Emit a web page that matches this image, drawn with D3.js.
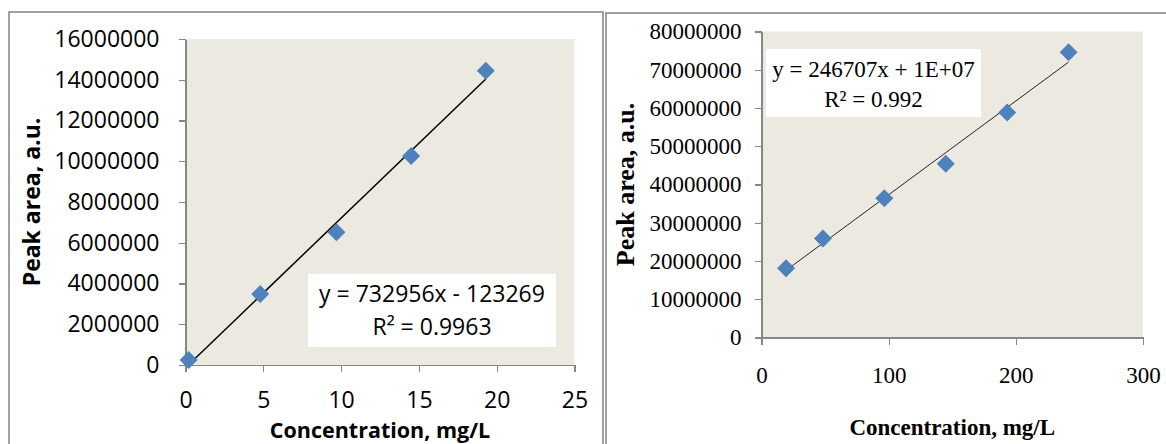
<!DOCTYPE html>
<html>
<head>
<meta charset="utf-8">
<script src="https://cdn.jsdelivr.net/npm/d3@7"></script>
<style>
  body { margin: 0; background: #fff; }
  svg { display: block; }
  .axis path, .axis line { stroke: #868686; stroke-width: 1.3px; shape-rendering: crispEdges; }
</style>
</head>
<body>
<svg id="chart" width="1166" height="444"></svg>
<script>
// Left chart: calibration 0-25 mg/L
const leftConc = [0.2, 4.8, 9.7, 14.5, 19.3];
const leftArea = [250000, 3480000, 6510000, 10260000, 14440000];
const leftXTicks = [0, 5, 10, 15, 20, 25];
const leftYTicks = [0, 2000000, 4000000, 6000000, 8000000, 10000000, 12000000, 14000000, 16000000];
const leftEquation = ["y = 732956x - 123269", "R² = 0.9963"];

// Right chart: calibration 0-300 mg/L
const rightConc = [19.3, 48.3, 96.6, 144.9, 193.2, 241.5];
const rightArea = [18100000, 25900000, 36400000, 45400000, 58800000, 74600000];
const rightXTicks = [0, 100, 200, 300];
const rightYTicks = [0, 10000000, 20000000, 30000000, 40000000, 50000000, 60000000, 70000000, 80000000];
const rightEquation = ["y = 246707x + 1E+07", "R² = 0.992"];

const svg = d3.select("#chart");

// least squares line through the points
function fitLine(xs, ys) {
    const mx = d3.mean(xs), my = d3.mean(ys);
    const sxy = d3.sum(xs, (x, i) => (x - mx) * (ys[i] - my));
    const sxx = d3.sum(xs, x => (x - mx) * (x - mx));
    const slope = sxy / sxx;
    return { slope, intercept: my - slope * mx };
}

function drawPanel(cfg) {
    // outer frame
    svg.append("rect")
        .attr("x", cfg.frame[0]).attr("y", cfg.frame[1])
        .attr("width", cfg.frame[2]).attr("height", cfg.frame[3])
        .attr("fill", "none")
        .attr("stroke", "#8a8a8a")
        .attr("stroke-width", 1.6);

    const x = d3.scaleLinear().domain(cfg.xDomain).range([cfg.left, cfg.right]);
    const y = d3.scaleLinear().domain(cfg.yDomain).range([cfg.bottom, cfg.top]);

    // plot area
    svg.append("rect")
        .attr("x", cfg.left).attr("y", cfg.top)
        .attr("width", cfg.right - cfg.left).attr("height", cfg.bottom - cfg.top)
        .attr("fill", "#ECEAE0");

    // y axis
    const yAxis = svg.append("g")
        .attr("class", "axis")
        .attr("transform", `translate(${cfg.left},0)`)
        .call(d3.axisLeft(y).tickValues(cfg.yTicks).tickSize(7).tickSizeOuter(0).tickPadding(cfg.yPad).tickFormat(d3.format("d")));
    yAxis.selectAll("text")
        .attr("fill", "#000")
        .style("font-family", cfg.font)
        .style("font-size", cfg.fontSize + "px");

    // x axis
    const xAxis = svg.append("g")
        .attr("class", "axis")
        .attr("transform", `translate(0,${cfg.bottom})`)
        .call(d3.axisBottom(x).tickValues(cfg.xTicks).tickSize(7).tickSizeOuter(0).tickPadding(cfg.xPad).tickFormat(d3.format("d")));
    xAxis.selectAll("text")
        .attr("fill", "#000")
        .style("font-family", cfg.font)
        .style("font-size", cfg.fontSize + "px");

    // trendline
    const fit = fitLine(cfg.xs, cfg.ys);
    const x0 = d3.min(cfg.xs), x1 = d3.max(cfg.xs);
    svg.append("line")
        .attr("x1", x(x0)).attr("y1", y(fit.slope * x0 + fit.intercept))
        .attr("x2", x(x1)).attr("y2", y(fit.slope * x1 + fit.intercept))
        .attr("stroke", cfg.lineColor)
        .attr("stroke-width", cfg.lineWidth);

    // diamond markers
    svg.selectAll(null)
        .data(cfg.xs)
        .enter()
        .append("path")
        .attr("d", d3.symbol(d3.symbolSquare, 2 * 9 * 9)())
        .attr("transform", (d, i) => `translate(${x(d)},${y(cfg.ys[i])}) rotate(45)`)
        .attr("fill", "#4F81BD");

    // equation box
    svg.append("rect")
        .attr("x", cfg.box[0]).attr("y", cfg.box[1])
        .attr("width", cfg.box[2]).attr("height", cfg.box[3])
        .attr("fill", "#fff");
    cfg.equation.forEach((t, i) => {
        svg.append("text")
            .attr("x", cfg.box[0] + cfg.box[2] / 2)
            .attr("y", cfg.eqBase[i])
            .attr("text-anchor", "middle")
            .style("font-family", cfg.font)
            .style("font-size", cfg.fontSize + "px")
            .text(t);
    });

    // axis titles
    svg.append("text")
        .attr("x", (cfg.left + cfg.right) / 2)
        .attr("y", cfg.xTitleY)
        .attr("text-anchor", "middle")
        .style("font-family", cfg.font)
        .style("font-size", cfg.titleSize + "px")
        .style("font-weight", "bold")
        .text("Concentration, mg/L");

    svg.append("text")
        .attr("transform", `translate(${cfg.yTitleX},${(cfg.top + cfg.bottom) / 2}) rotate(-90)`)
        .attr("text-anchor", "middle")
        .style("font-family", cfg.font)
        .style("font-size", cfg.yTitleSize + "px")
        .style("font-weight", "bold")
        .text("Peak area, a.u.");
}

drawPanel({
    frame: [9, 12, 594, 460],
    left: 185.5, right: 574.5, top: 39, bottom: 365,
    xDomain: [0, 25], yDomain: [0, 16000000],
    xTicks: leftXTicks, yTicks: leftYTicks,
    xs: leftConc, ys: leftArea,
    font: "'Open Sans', sans-serif", fontSize: 23, titleSize: 21.5, yTitleSize: 23,
    yPad: 19, xPad: 20,
    lineColor: "#000", lineWidth: 1.5,
    box: [308, 274, 248, 73], eqBase: [302, 335],
    equation: leftEquation,
    xTitleY: 438, yTitleX: 40
});

drawPanel({
    frame: [606, 13, 600, 460],
    left: 761.5, right: 1143, top: 31.5, bottom: 337.5,
    xDomain: [0, 300], yDomain: [0, 80000000],
    xTicks: rightXTicks, yTicks: rightYTicks,
    xs: rightConc, ys: rightArea,
    font: "'Liberation Serif', 'Times New Roman', serif", fontSize: 23, titleSize: 23, yTitleSize: 26,
    yPad: 13, xPad: 22,
    lineColor: "#222", lineWidth: 1,
    box: [766, 49, 215, 68], eqBase: [77, 107],
    equation: rightEquation,
    xTitleY: 435, yTitleX: 634
});
</script>
</body>
</html>
